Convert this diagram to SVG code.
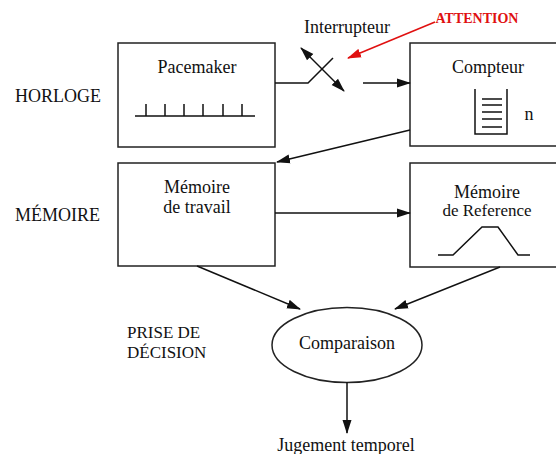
<svg xmlns="http://www.w3.org/2000/svg" width="556" height="454" viewBox="0 0 556 454">
<style>
text{font-family:"Liberation Serif","Times New Roman","DejaVu Serif",serif;font-size:18px;fill:#111;text-anchor:middle}
.lbl{text-anchor:start}
.box{fill:#fff;stroke:#222;stroke-width:1.5}
.ln{fill:none;stroke:#111;stroke-width:1.5}
.red{fill:none;stroke:#e01010;stroke-width:1.5}
</style>
<defs>
<marker id="ah" markerUnits="userSpaceOnUse" markerWidth="14" markerHeight="10" refX="13" refY="4.5" orient="auto-start-reverse" viewBox="0 0 14 9">
<path d="M0,0 L14,4.5 L0,9 z" fill="#111"/>
</marker>
<marker id="ahr" markerUnits="userSpaceOnUse" markerWidth="14" markerHeight="10" refX="13" refY="4.5" orient="auto" viewBox="0 0 14 9">
<path d="M0,0 L14,4.5 L0,9 z" fill="#e01010"/>
</marker>
</defs>
<rect width="556" height="454" fill="#fff"/>
<g id="labels">
<text class="lbl" x="15" y="102">HORLOGE</text>
<text class="lbl" x="15" y="221">MÉMOIRE</text>
<text class="lbl" x="127" y="338" style="font-size:17px">PRISE DE</text>
<text class="lbl" x="127" y="358" style="font-size:17px">DÉCISION</text>
</g>
<g id="pacemaker">
<rect class="box" x="118" y="43" width="157" height="104"/>
<text x="197" y="73">Pacemaker</text>
<path class="ln" d="M135,116 H255 M146,116 V104 M165,116 V104 M184,116 V104 M203,116 V104 M223,116 V104 M242,116 V104"/>
</g>
<g id="compteur">
<rect class="box" x="410" y="43" width="160" height="103"/>
<text x="488" y="73">Compteur</text>
<path class="ln" d="M475,89 V134 H507 V89 M482,99 H502 M482,105 H502 M482,112 H502 M482,119 H502 M482,127 H502"/>
<text x="529" y="120">n</text>
</g>
<g id="interrupteur">
<text x="347" y="33">Interrupteur</text>
<path class="ln" d="M275,83 H308 L333,58"/>
<line class="ln" x1="301" y1="48" x2="344" y2="91" marker-start="url(#ah)" marker-end="url(#ah)"/>
</g>
<g id="attention">
<text x="477" y="23" style="fill:#e01010;font-weight:bold;font-size:14px">ATTENTION</text>
<line class="red" x1="435" y1="22" x2="348" y2="58" marker-end="url(#ahr)"/>
</g>
<g id="memoire-travail">
<rect class="box" x="118" y="163" width="157" height="103"/>
<text x="197" y="193">Mémoire</text>
<text x="197" y="213">de travail</text>
</g>
<g id="memoire-reference">
<rect class="box" x="410" y="163" width="160" height="104"/>
<text x="487" y="198">Mémoire</text>
<text x="487" y="216" style="font-size:17px">de Reference</text>
<path class="ln" d="M438,255 H453 L482,227 H498 L518,255 H530"/>
</g>
<g id="comparaison">
<ellipse class="box" cx="347" cy="345" rx="75" ry="37.5"/>
<text x="347" y="349">Comparaison</text>
</g>
<g id="jugement">
<text x="346" y="451">Jugement temporel</text>
</g>
<g id="connectors">
<line class="ln" x1="363" y1="83" x2="410" y2="83" marker-end="url(#ah)"/>
<line class="ln" x1="410" y1="130" x2="277" y2="162" marker-end="url(#ah)"/>
<line class="ln" x1="275" y1="213" x2="410" y2="213" marker-end="url(#ah)"/>
<line class="ln" x1="197" y1="266" x2="300" y2="309" marker-end="url(#ah)"/>
<line class="ln" x1="500" y1="267" x2="395" y2="309" marker-end="url(#ah)"/>
<line class="ln" x1="347" y1="382" x2="347" y2="433" marker-end="url(#ah)"/>
</g>
</svg>
